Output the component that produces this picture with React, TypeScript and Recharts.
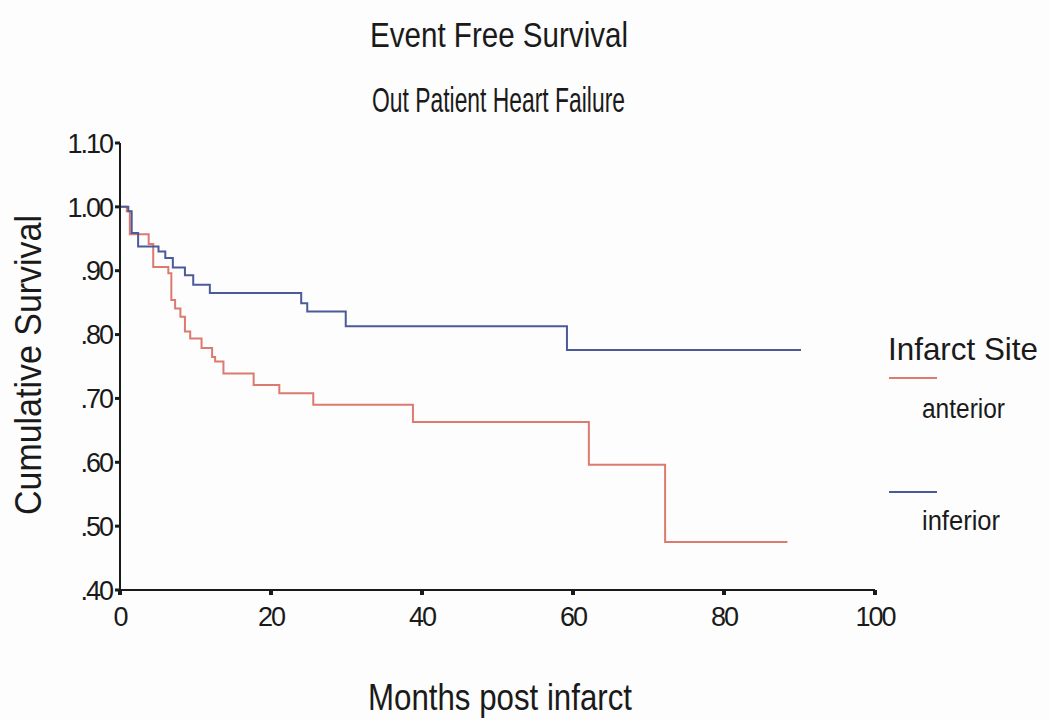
import { Line, LineChart, XAxis, YAxis } from "recharts";

const anteriorMonths = [0, 0.9, 1.3, 3.8, 4.4, 6.4, 6.8, 7.3, 8.0, 8.6, 9.3, 10.8, 12.2, 12.6, 13.7, 17.7, 21.1, 25.6, 38.8, 62.1, 72.2, 88.4];
const anteriorSurvival = [1.0, 0.993, 0.957, 0.942, 0.906, 0.896, 0.854, 0.841, 0.828, 0.805, 0.794, 0.779, 0.765, 0.758, 0.739, 0.721, 0.708, 0.69, 0.663, 0.596, 0.475, 0.475];

const inferiorMonths = [0, 1.1, 1.55, 2.4, 5.1, 6.0, 7.0, 8.6, 9.7, 11.9, 24.0, 24.8, 29.9, 59.2, 90.2];
const inferiorSurvival = [1.0, 0.993, 0.959, 0.938, 0.93, 0.92, 0.905, 0.893, 0.878, 0.865, 0.849, 0.836, 0.813, 0.776, 0.776];

const xTicks = [0, 20, 40, 60, 80, 100];
const yTicks = [0.4, 0.5, 0.6, 0.7, 0.8, 0.9, 1.0, 1.1];
const yTickLabels = [".40", ".50", ".60", ".70", ".80", ".90", "1.00", "1.10"];
const legendLabels = ["anterior", "inferior"];

const FONT = '"Liberation Sans", Arial, sans-serif';
const RED = "#dc7a70";
const BLUE = "#4b5b99";
const INK = "#1a1a1a";

function toRows(months: number[], values: number[]) {
  return months.map((m, i) => ({ month: m, survival: values[i] }));
}

const anteriorData = toRows(anteriorMonths, anteriorSurvival);
const inferiorData = toRows(inferiorMonths, inferiorSurvival);

function YTick({ x, y, payload }: any) {
  const idx = yTicks.findIndex((t) => Math.abs(t - payload.value) < 1e-6);
  return (
    <text x={x} y={y} dy="0.36em" textAnchor="end" fontFamily={FONT} fontSize={27} letterSpacing={-2} fill={INK}>
      {yTickLabels[idx]}
    </text>
  );
}

function XTick({ x, y, payload }: any) {
  return (
    <text x={x} y={y} dy="0.71em" textAnchor="middle" fontFamily={FONT} fontSize={27} letterSpacing={-2} fill={INK}>
      {payload.value}
    </text>
  );
}

export default function App() {
  return (
    <div style={{ position: "absolute", left: 0, top: 0, width: 1049, height: 720, background: "#fdfdfd" }}>
      <LineChart width={1049} height={720} margin={{ top: 143, right: 174, bottom: 80, left: 0 }}>
        <XAxis
          type="number"
          dataKey="month"
          domain={[0, 100]}
          ticks={xTicks}
          allowDataOverflow
          height={50}
          axisLine={{ stroke: INK, strokeWidth: 2 }}
          tickLine={{ stroke: INK, strokeWidth: 4 }}
          tickSize={5}
          tickMargin={12}
          tick={<XTick />}
        />
        <YAxis
          type="number"
          domain={[0.4, 1.1]}
          ticks={yTicks}
          allowDataOverflow
          width={120}
          axisLine={{ stroke: INK, strokeWidth: 2 }}
          tickLine={{ stroke: INK, strokeWidth: 3 }}
          tickSize={5}
          tickMargin={3}
          tick={<YTick />}
        />
        <Line data={anteriorData} dataKey="survival" type="stepAfter" stroke={RED} strokeWidth={2} dot={false} isAnimationActive={false} />
        <Line data={inferiorData} dataKey="survival" type="stepAfter" stroke={BLUE} strokeWidth={2} dot={false} isAnimationActive={false} />
      </LineChart>
      <svg width={1049} height={720} style={{ position: "absolute", left: 0, top: 0, pointerEvents: "none" }}>
        <g fontFamily={FONT} fill={INK}>
          <text x={370} y={47} fontSize={35} textLength={258} lengthAdjust="spacingAndGlyphs">Event Free Survival</text>
          <text x={372} y={112} fontSize={35} textLength={253} lengthAdjust="spacingAndGlyphs">Out Patient Heart Failure</text>
          <text x={368} y={710} fontSize={37} textLength={264} lengthAdjust="spacingAndGlyphs">Months post infarct</text>
          <text
            x={0}
            y={0}
            fontSize={36}
            textLength={300}
            lengthAdjust="spacingAndGlyphs"
            transform="translate(41 515) rotate(-90)"
          >
            Cumulative Survival
          </text>
          <text x={888} y={360} fontSize={32} textLength={150} lengthAdjust="spacingAndGlyphs">Infarct Site</text>
          <line x1={889} x2={937} y1={378} y2={378} stroke={RED} strokeWidth={2} />
          <text x={922} y={418} fontSize={27} textLength={83} lengthAdjust="spacingAndGlyphs">{legendLabels[0]}</text>
          <line x1={889} x2={937} y1={492} y2={492} stroke={BLUE} strokeWidth={2} />
          <text x={922} y={530} fontSize={27} textLength={78} lengthAdjust="spacingAndGlyphs">{legendLabels[1]}</text>
        </g>
      </svg>
    </div>
  );
}
